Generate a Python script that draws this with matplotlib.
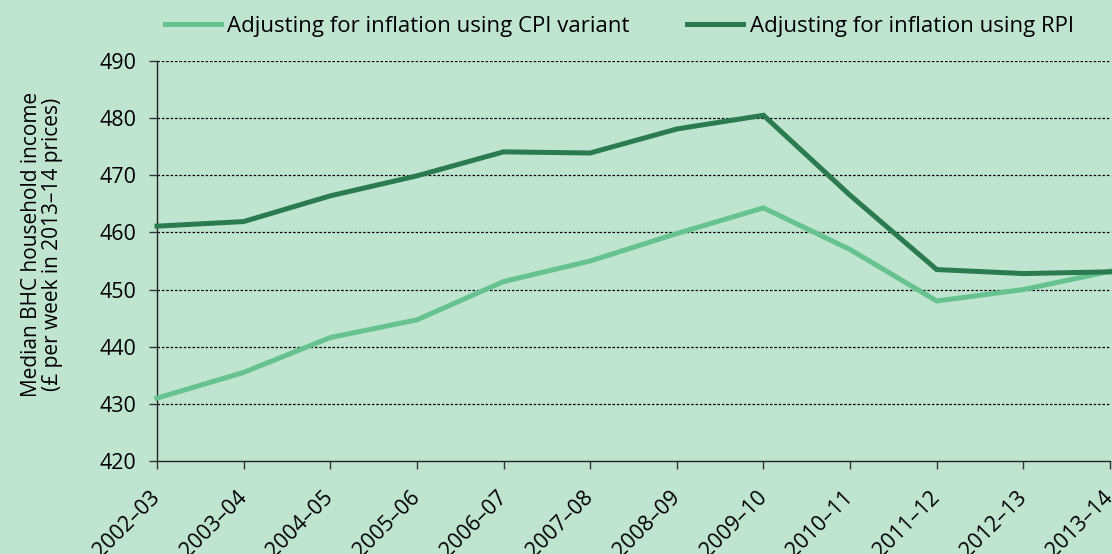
import numpy as np
import matplotlib
matplotlib.use('Agg')
import matplotlib.pyplot as plt
import matplotlib.transforms as mtransforms

years = ['2002–03', '2003–04', '2004–05', '2005–06', '2006–07', '2007–08',
         '2008–09', '2009–10', '2010–11', '2011–12', '2012–13', '2013–14']
cpiVals = [431.0, 435.5, 441.6, 444.7, 451.4, 455.0, 459.8, 464.3, 457.0, 448.0, 450.0, 453.2]
rpiVals = [461.1, 461.9, 466.4, 469.9, 474.1, 473.9, 478.1, 480.5, 466.5, 453.5, 452.8, 453.1]

bg = '#bfe5d1'
cpiColor = '#66c28e'
rpiColor = '#2b7b51'

plt.rcParams['font.family'] = ['Open Sans', 'DejaVu Sans']

fig = plt.figure(figsize=(11.12, 5.54), dpi=100, facecolor=bg)
ax = fig.add_axes([0.1412, 0.1679, 0.857, 0.722])
ax.set_facecolor(bg)

x = np.arange(len(years))
ax.plot(x, cpiVals, color=cpiColor, lw=3.6, label='Adjusting for inflation using CPI variant',
        solid_joinstyle='miter', clip_on=False, zorder=3)
ax.plot(x, rpiVals, color=rpiColor, lw=3.6, label='Adjusting for inflation using RPI',
        solid_joinstyle='miter', clip_on=False, zorder=3)

ax.set_xlim(0, len(years) - 1)
ax.set_ylim(420, 490)
ax.set_yticks(np.arange(420, 491, 10))
ax.set_xticks(x)
ax.set_xticklabels(years, rotation=45, ha='right', va='center', rotation_mode='anchor')
shift = mtransforms.ScaledTranslation(5 / 100, 0, fig.dpi_scale_trans)
for lbl in ax.get_xticklabels():
    lbl.set_transform(lbl.get_transform() + shift)

for yv in np.arange(430, 491, 10):
    ax.axhline(yv, color='black', lw=0.9, linestyle=(0, (2, 1.5)), zorder=1)

for side in ['top', 'right']:
    ax.spines[side].set_visible(False)
for side in ['left', 'bottom']:
    ax.spines[side].set_color('#222222')
    ax.spines[side].set_linewidth(1.0)

ax.tick_params(axis='both', direction='out', length=6, width=1, color='#333333',
               labelsize=15.5, labelcolor='black')
ax.tick_params(axis='y', pad=9)
ax.tick_params(axis='x', pad=18)

ax.set_ylabel('Median BHC household income\n(£ per week in 2013–14 prices)', fontsize=15,
              linespacing=0.95)
ax.yaxis.set_label_coords(-0.099, 0.5425)

fig.legend(loc='center', bbox_to_anchor=(0.557, 0.953), ncol=2, frameon=False, fontsize=16,
           handlelength=2.5, handletextpad=0.3, columnspacing=2.6)

fig.savefig('out.png', dpi=100, facecolor=bg)
